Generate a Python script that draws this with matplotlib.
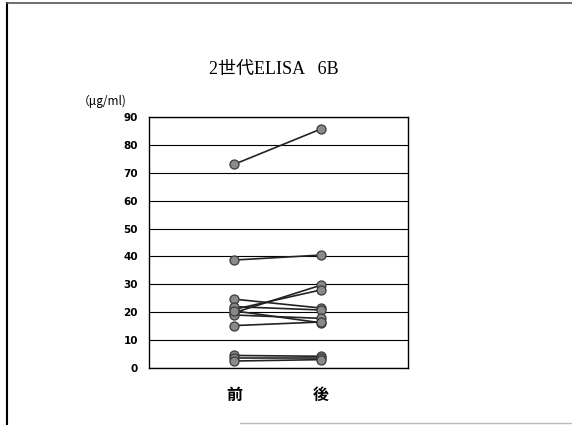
import matplotlib
matplotlib.use("Agg")
import matplotlib.pyplot as plt
from matplotlib.lines import Line2D

plt.rcParams['font.family'] = ['Noto Sans CJK JP', 'DejaVu Sans']

# data (ug/ml), before -> after
groups = ['前', '後']
before = [73.0, 38.7, 24.7, 19.8, 21.0, 22.0, 19.0, 20.5, 15.2, 4.5, 3.5, 2.5]
after = [85.7, 40.5, 21.5, 29.7, 28.0, 20.8, 17.8, 16.2, 16.5, 4.2, 3.5, 3.0]
yticks = [0, 10, 20, 30, 40, 50, 60, 70, 80, 90]

fig = plt.figure(figsize=(5.72, 4.25), dpi=100)
ax = fig.add_axes([149 / 572, 57 / 425, 259 / 572, 251 / 425])

for b, a in zip(before, after):
    ax.plot([0, 1], [b, a], color='#222222', lw=1.2, marker='o', ms=6.5,
            mfc='#8a8a8a', mec='#3a3a3a', mew=0.9, zorder=3)

ax.set_xlim(-0.976, 2.0)
ax.set_ylim(0, 90)
ax.set_yticks(yticks)
ax.set_yticklabels([str(v) for v in yticks], fontsize=7.5, fontweight='bold',
                   family='DejaVu Sans')
ax.set_xticks([])
ax.tick_params(axis='y', length=0, pad=8)
for v in yticks:
    ax.axhline(v, color='black', lw=0.8, zorder=1)
for s in ax.spines.values():
    s.set_color('black')
    s.set_linewidth(1.0)

# group labels under the axis
for i, g in enumerate(groups):
    ax.text(i, -9.5, g, ha='center', va='center', fontsize=11.5,
            fontweight='bold', clip_on=False)

fig.text(274 / 572, 1 - 69 / 425, '2世代ELISA   6B', ha='center', va='center',
         fontsize=13, family=['Liberation Serif', 'Noto Sans CJK JP'])
fig.text(78 / 572, 1 - 101 / 425, '（μg/ml)', ha='left', va='center',
         fontsize=8.5, family=['Noto Sans CJK JP', 'DejaVu Sans'])

# page frame lines (left and top edge of the slide)
fig.add_artist(Line2D([7 / 572, 7 / 572], [0, 1 - 3 / 425], color='black', lw=1.5))
fig.add_artist(Line2D([7 / 572, 1], [1 - 3 / 425, 1 - 3 / 425], color='#555555', lw=1.2))
fig.add_artist(Line2D([240 / 572, 1], [2 / 425, 2 / 425], color='#bbbbbb', lw=1.0))

fig.savefig('out.png', dpi=100)
